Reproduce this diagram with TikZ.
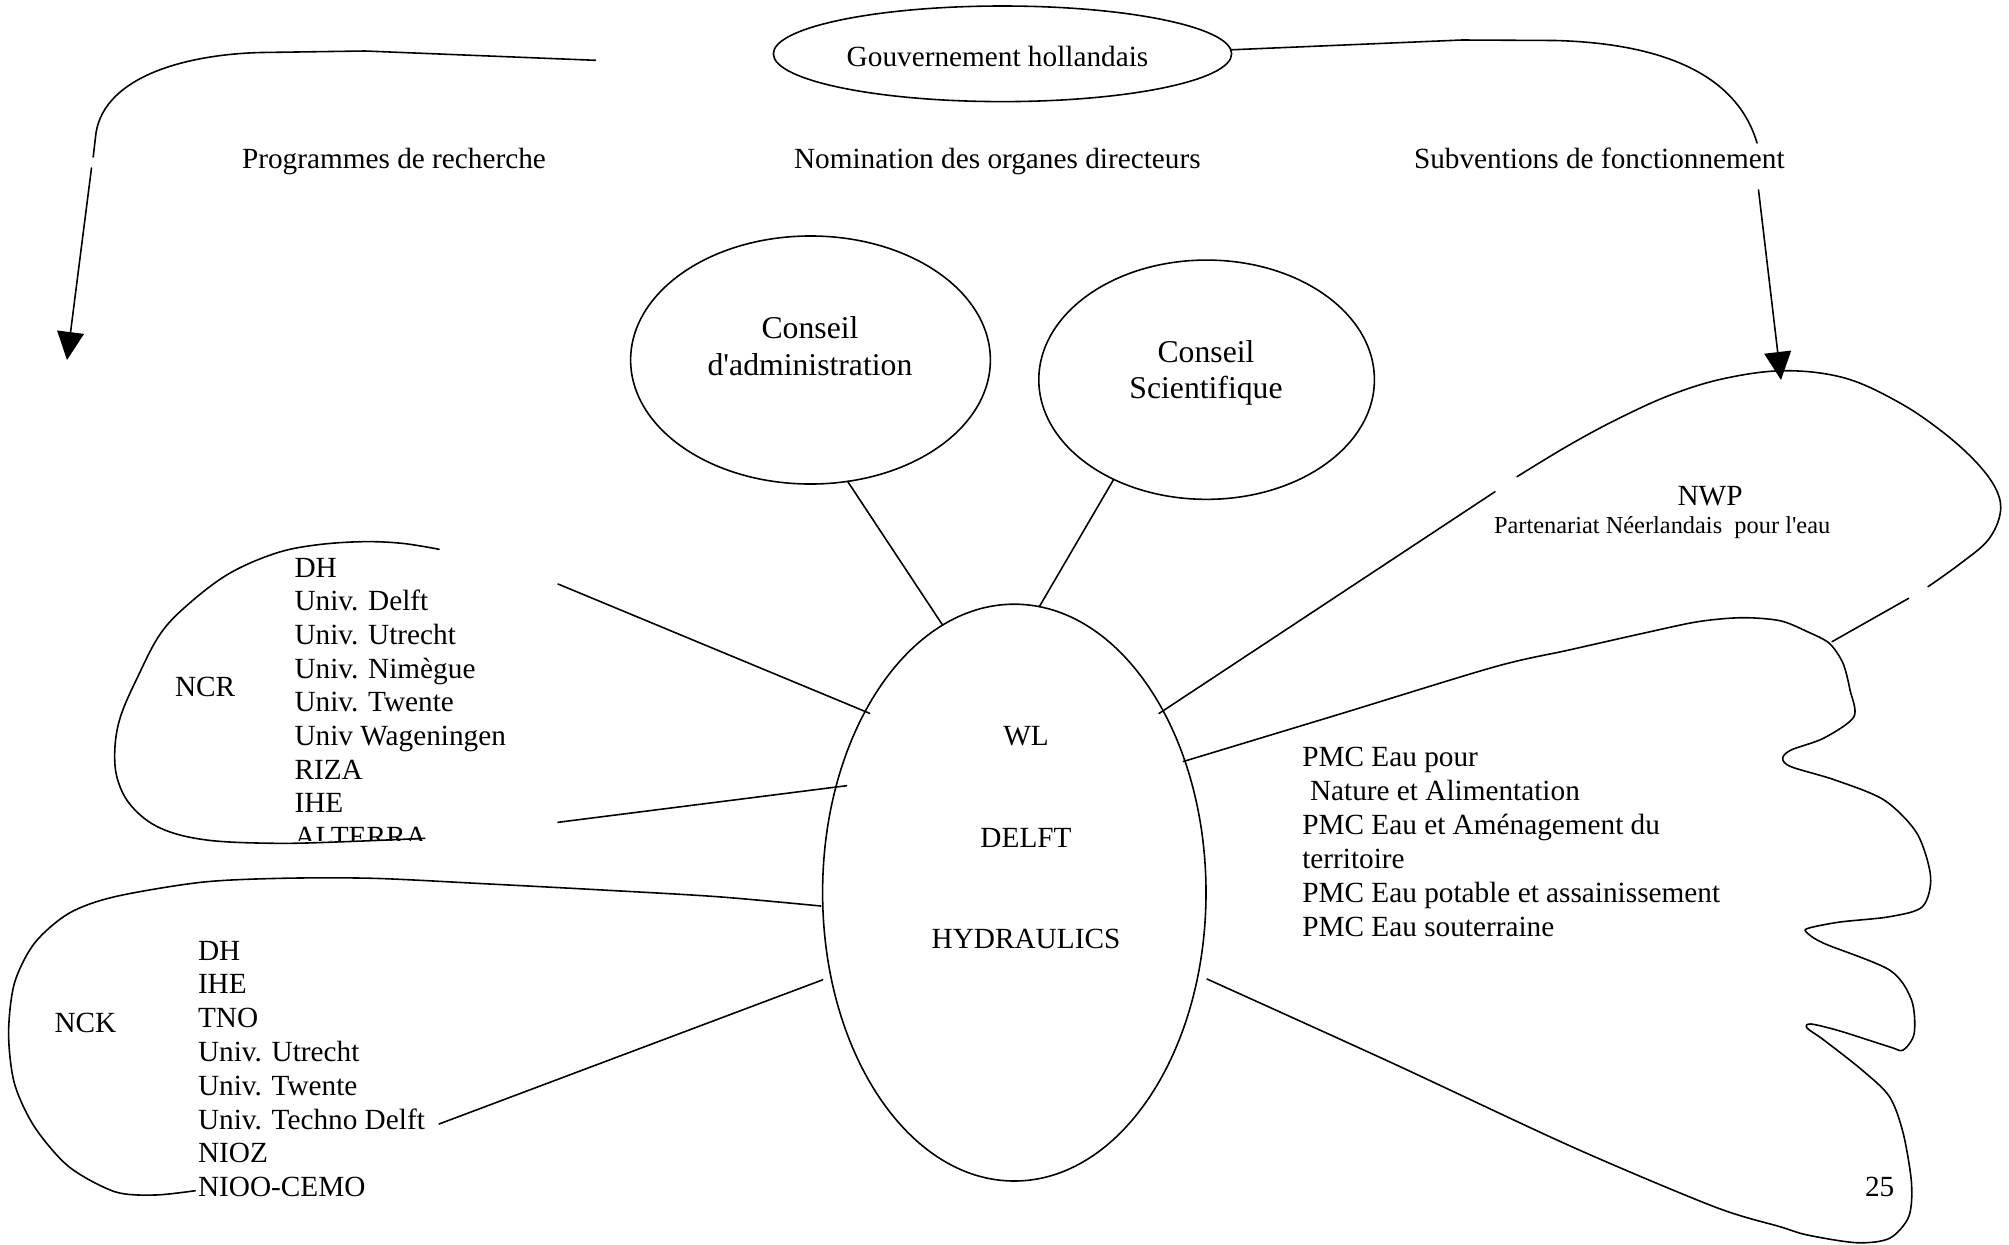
\documentclass[tikz,border=0pt]{standalone}
\usepackage{fontspec}
\setmainfont{Liberation Serif}
\usetikzlibrary{shapes.geometric,arrows.meta}
\begin{document}
\begin{tikzpicture}[x=0.41pt,y=-0.41pt,
  every node/.style={inner sep=0pt,outer sep=0pt,font=\fontsize{12}{13.8}\selectfont},
  ln/.style={line width=0.65pt,line join=round,line cap=round},
  oval/.style={draw,ellipse,line width=0.65pt,inner sep=0pt,outer sep=0pt},
  txt/.style={anchor=base west},
  ctxt/.style={anchor=base},
  big/.style={font=\fontsize{13}{15}\selectfont},
  small/.style={font=\fontsize{10}{11.5}\selectfont},
  tip/.style={-{Triangle[length=11.5pt,width=11pt]}}
]
\useasboundingbox (0,0) rectangle (2009,1244);

% ellipses
\node[oval,minimum width=187.9pt,minimum height=39.2pt] (gov) at (1002.5,53.8) {};
\node[oval,minimum width=147.5pt,minimum height=101.7pt] (admin) at (810.5,360) {};
\node[oval,minimum width=137.6pt,minimum height=98.1pt] (sci) at (1206.6,379.7) {};
\node[oval,minimum width=157.2pt,minimum height=236.5pt] (wl) at (1014.3,892.6) {};

% texts in ellipses
\node[ctxt] (govt) at (997.5,66.7) {Gouvernement hollandais};
\node[ctxt,big] (admt1) at (810,338) {Conseil};
\node[ctxt,big] (admt2) at (810,375) {d\textquotesingle administration};
\node[ctxt,big] (scit1) at (1206,362.7) {Conseil};
\node[ctxt,big] (scit2) at (1206,398) {Scientifique};
\node[ctxt] (wlt1) at (1026,745.6) {WL};
\node[ctxt] (wlt2) at (1026,847) {DELFT};
\node[ctxt] (wlt3) at (1026,948) {HYDRAULICS};

% top labels
\node[txt] (lab1) at (242,168.3) {Programmes de recherche};
\node[txt] (lab2) at (794,168.3) {Nomination des organes directeurs};
\node[txt] (lab3) at (1414,168.3) {Subventions de fonctionnement};

% coordinates
\coordinate (progA) at (595.5,60.3);
\coordinate (progB) at (93.2,157);
\coordinate (progC) at (91.5,168);
\coordinate (progD) at (67,360);
\coordinate (subA) at (1757,143);
\coordinate (subB) at (1758.5,190);
\coordinate (subC) at (1781,380);
\coordinate (ncrA) at (558,584);
\coordinate (wlA) at (869.6,713.3);
\coordinate (ncrB) at (558,822.3);
\coordinate (wlB) at (846.6,785.7);
\coordinate (wlC) at (820.8,906);
\coordinate (nckB) at (439,1124);
\coordinate (wlD) at (822.7,979.8);
\coordinate (wlE) at (1159,713.5);
\coordinate (nwpA) at (1495,491.7);
\coordinate (nwpB) at (1517,476.7);
\coordinate (nwpC) at (1928,586.7);
\coordinate (nwpD) at (1908.7,598.3);
\coordinate (nwpE) at (1832,641.7);
\coordinate (wlF) at (1183.3,761.5);
\coordinate (wlG) at (1207,979);

% government arrows
\draw[ln] (progA) -- (365,51) -- (262,52.5) .. controls (190,54) and (105,75) .. (96,133) -- (progB);
\draw[ln,tip] (progC) -- (progD);
\draw[ln] (gov.1) -- (1462,40) -- (1555,40.5) .. controls (1650,43) and (1735,68) .. (subA);
\draw[ln,tip] (subB) -- (subC);

% councils to WL
\draw[ln] (admin.-73.3) -- (wl.105.3);
\draw[ln] (sci.227.3) -- (wl.85.2);

% NCR
\draw[ln] plot[smooth,tension=0.6] coordinates {(439.1,549.3) (401.8,543.3) (361.6,541.7) (315.7,545) (275.5,553.3) (229.6,573.3) (189.4,603.3) (160.7,633.3) (137.8,676.7) (120.5,716.7) (114.8,750) (117.7,780) (132,806.7) (160.7,828.3) (206.6,840) (275.5,843.3) (344.4,841.7) (424.8,838.3)};
\draw[ln] (ncrA) -- (wlA);
\draw[ln] (ncrB) -- (wlB);
\node[txt] (ncr) at (175,696.7) {NCR};
\foreach \t [count=\i] in {DH,Univ. Delft,Univ. Utrecht,Univ. Nimègue,Univ. Twente,Univ Wageningen,RIZA,IHE}
  \node[txt] (ncr\i) at (294.5,{577+33.7*(\i-1)}) {\t};
\begin{scope}
\clip (280,800) rectangle (640,840);
\node[txt] (ncr9) at (294.5,846.6) {ALTERRA};
\end{scope}

% NCK
\draw[ln] plot[smooth,tension=0.5] coordinates {(wlC) (717.5,896.7) (602.7,890) (480,883.5) (373.1,878.3) (281.3,878.3) (200.9,882.3) (114.8,896.7) (68.9,913.3) (34.4,943.3) (14.4,983.3) (8.6,1033.3) (14.4,1083.3) (34.4,1126.7) (68.9,1166.7) (114.8,1191.7) (155,1195) (195.2,1190.7)};
\draw[ln] (nckB) -- (wlD);
\node[txt] (nck) at (54.5,1032.7) {NCK};
\foreach \t [count=\i] in {DH,IHE,TNO,Univ. Utrecht,Univ. Twente,Univ. Techno Delft,NIOZ,NIOO-CEMO}
  \node[txt] (nck\i) at (198,{960+33.8*(\i-1)}) {\t};

% NWP
\draw[ln] (wlE) -- (nwpA);
\draw[ln] plot[smooth,tension=0.6] coordinates {(nwpB) (1566.3,446.7) (1615.6,420) (1670.4,395) (1725.2,378.3) (1785.5,370.7) (1845.7,378.3) (1900.5,403.3) (1944.3,433.3) (1977.2,463.3) (1996.4,490) (2000.2,513.3) (1988.1,540) (1960.7,563.3) (nwpC)};
\draw[ln] (nwpD) -- (nwpE);
\node[ctxt] (nwp) at (1710,505) {NWP};
\node[txt,small] (nwp2) at (1494,533) {Partenariat Néerlandais\ \ pour l\textquotesingle eau};

% PMC
\draw[ln] plot[smooth,tension=0.5] coordinates {(wlF) (1340,714) (1495.1,666.7) (1569,650) (1643,633.3) (1697.8,621.7) (1741.6,617.7) (1780,620.7) (1807.4,631.7) (1829.3,643.3) (1843,663.3) (1850,690) (1853.9,716.7) (1824,738) (1791,750) (1782.7,758.3) (1791,766.7) (1835,780) (1884,800) (1916.9,833.3) (1930.6,876.7) (1922.4,906.7) (1889.5,916.7) (1840,922) (1809,928) (1806.3,932) (1823.8,943.3) (1889.5,970) (1911.5,1000) (1914.2,1033.3) (1903.2,1050) (1890,1047) (1840,1031) (1811,1024) (1807,1028) (1823.8,1040) (1862,1070) (1889.5,1096.7) (1903.2,1133.3) (1911.5,1183.3) (1908.7,1216.7) (1889.5,1238.3) (1856.6,1242.7) (1807.4,1235) (1780,1226.7) (1714.2,1206.7) (1571.8,1146.7) (1390,1062) (wlG)};
\node[txt] (pmc1) at (1302.3,766.7) {PMC Eau pour};
\node[txt] (pmc2) at (1310,800.7) {Nature et Alimentation};
\node[txt] (pmc3) at (1302.3,834.7) {PMC Eau et Aménagement du};
\node[txt] (pmc4) at (1302.3,868.7) {territoire};
\node[txt] (pmc5) at (1302.3,902.7) {PMC Eau potable et assainissement};
\node[txt] (pmc6) at (1302.3,936.7) {PMC Eau souterraine};

\node[txt] (page) at (1865,1196.7) {25};
\end{tikzpicture}
\end{document}
